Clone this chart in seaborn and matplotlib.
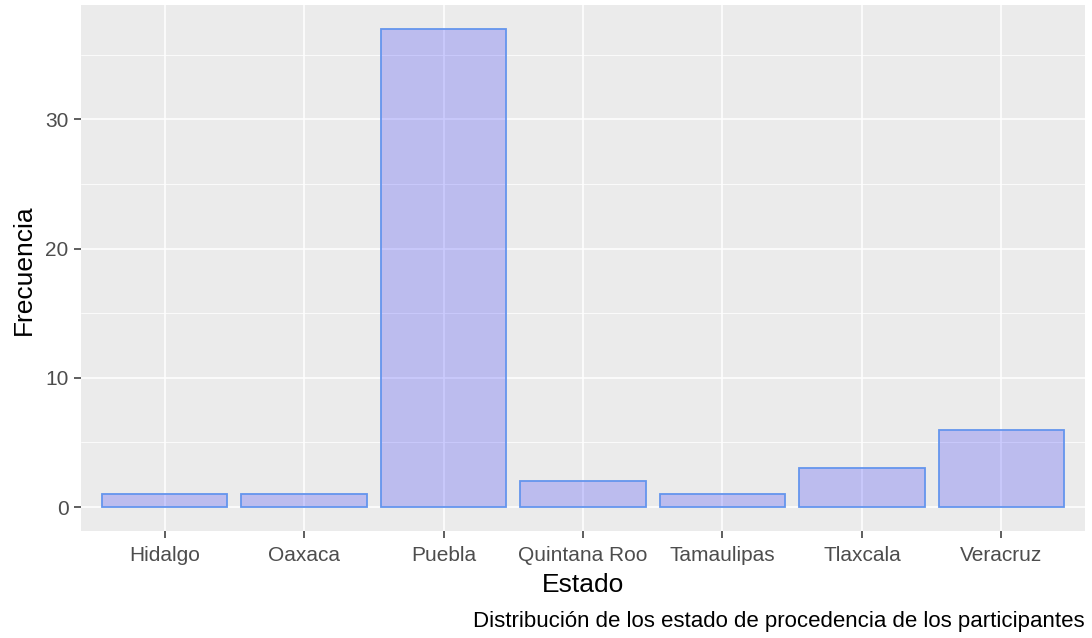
import matplotlib
matplotlib.use("Agg")
import matplotlib.pyplot as plt
import seaborn as sns
import pandas as pd

# data
estados = ["Hidalgo", "Oaxaca", "Puebla", "Quintana Roo", "Tamaulipas", "Tlaxcala", "Veracruz"]
frecuencia = [1, 1, 37, 2, 1, 3, 6]

df = pd.DataFrame({"Estado": estados, "Frecuencia": frecuencia})

sns.set_style("darkgrid")
plt.rcParams["font.family"] = ["Liberation Sans", "DejaVu Sans"]

W, H = 1092, 638
fig = plt.figure(figsize=(W / 100, H / 100), dpi=100)
# panel: x 81..1085, y 5..531 (pixels from top)
ax = fig.add_axes([81 / W, (H - 531) / H, 1004 / W, 526 / H])
ax.set_facecolor("#EBEBEB")

sns.barplot(data=df, x="Estado", y="Frecuencia", order=estados, ax=ax,
            color=(0, 0, 1, 0.2), edgecolor="#6495ED", linewidth=1.3,
            width=0.9, saturation=1, zorder=3)
for p in ax.patches:
    p.set_facecolor((0, 0, 1, 0.2))

ax.set_xlim(-0.6, len(estados) - 0.4)
ax.set_ylim(-1.85, 38.85)
ax.set_yticks([0, 10, 20, 30])
ax.set_yticks([5, 15, 25, 35], minor=True)

ax.grid(which="major", color="white", linewidth=1.1, zorder=0)
ax.grid(which="minor", axis="y", color="white", linewidth=0.55, zorder=0)
ax.grid(which="minor", axis="x", visible=False)
ax.set_axisbelow(True)
for s in ax.spines.values():
    s.set_visible(False)

ax.tick_params(which="major", bottom=True, left=True, length=5, width=1.1,
               color="#333333", labelcolor="#4D4D4D", labelsize=15, pad=4)
ax.tick_params(axis="x", pad=6)
ax.tick_params(which="minor", length=0)

ax.set_xlabel("Estado", fontsize=19, color="black")
ax.set_ylabel("Frecuencia", fontsize=19, color="black")
ax.xaxis.set_label_coords((583 - 81) / 1004, -(585 - 531) / 526)
ax.xaxis.label.set_va("center")
ax.yaxis.set_label_coords((24 - 81) / 1004, (531 - 270) / 526)
ax.yaxis.label.set_va("center")

fig.text(1085 / W, (H - 622) / H,
         "Distribución de los estado de procedencia de los participantes",
         ha="right", va="center", fontsize=16, color="black")

fig.savefig("out.png", dpi=100)
